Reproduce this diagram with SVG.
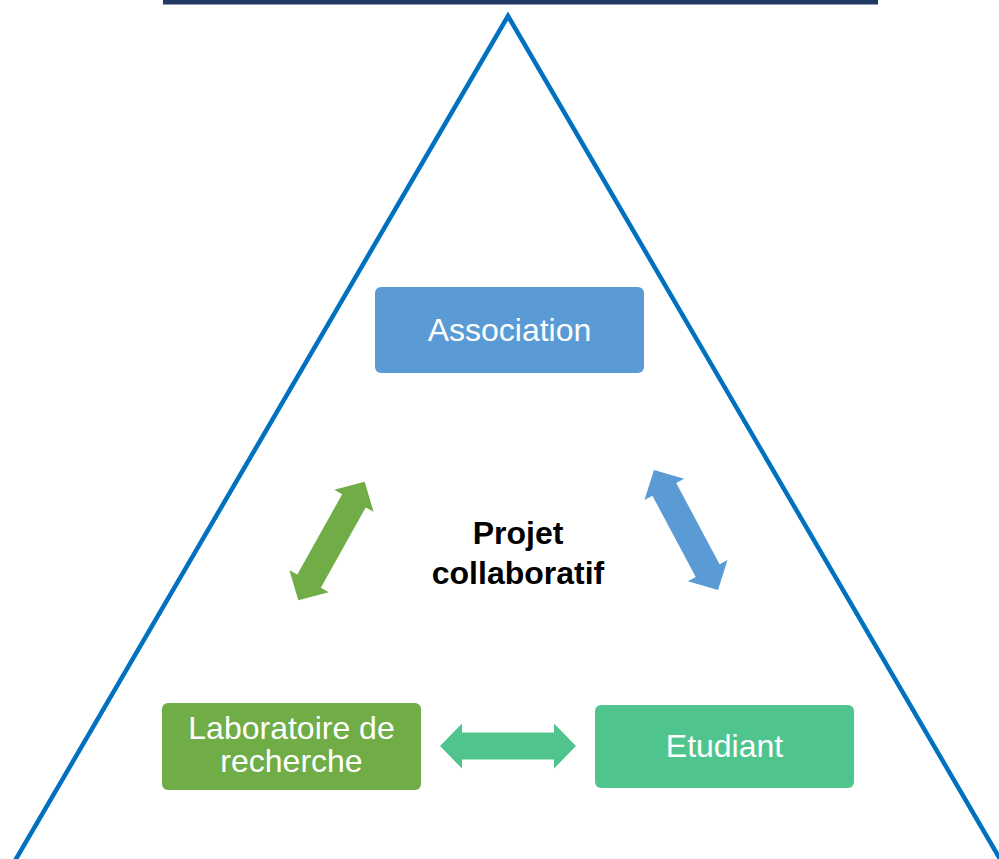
<svg xmlns="http://www.w3.org/2000/svg" width="999" height="859" viewBox="0 0 999 859">
  <defs>
    <path id="dblarrow" d="M -68,0 L -46,-22.5 L -46,-13.5 L 46,-13.5 L 46,-22.5 L 68,0 L 46,22.5 L 46,13.5 L -46,13.5 L -46,22.5 Z"/>
  </defs>
  <style>
    .label { font-family: "Liberation Sans", Arial, sans-serif; font-size: 32px; fill: #ffffff; text-anchor: middle; }
    .center { font-family: "Liberation Sans", Arial, sans-serif; font-size: 32px; font-weight: bold; fill: #000000; text-anchor: middle; }
    .tri { fill: none; stroke: #0070C0; stroke-width: 4.5; stroke-linejoin: miter; }
  </style>
  <rect x="0" y="0" width="999" height="859" fill="#ffffff"/>
  <g id="frame">
    <rect x="163" y="0" width="715" height="4.5" fill="#203864"/>
    <polyline class="tri" points="2,883 508,16 1014,883"/>
  </g>
  <g id="connectors">
    <use href="#dblarrow" fill="#70AD47" transform="translate(331.5,541) rotate(-60.8)"/>
    <use href="#dblarrow" fill="#5B9BD5" transform="translate(686,530) rotate(61.9)"/>
    <use href="#dblarrow" fill="#4FC58D" transform="translate(508,746)"/>
  </g>
  <g id="association">
    <rect x="375" y="287" width="269" height="86" rx="6" fill="#5B9BD5"/>
    <text class="label" x="509.5" y="341">Association</text>
  </g>
  <g id="laboratoire">
    <rect x="162" y="703" width="259" height="87" rx="6" fill="#70AD47"/>
    <text class="label" x="291.5" y="739">Laboratoire de</text>
    <text class="label" x="291.5" y="772">recherche</text>
  </g>
  <g id="etudiant">
    <rect x="595" y="705" width="259" height="83" rx="6" fill="#4FC58D"/>
    <text class="label" x="724.5" y="757">Etudiant</text>
  </g>
  <g id="projet">
    <text class="center" x="518" y="544">Projet</text>
    <text class="center" x="518" y="584">collaboratif</text>
  </g>
</svg>
